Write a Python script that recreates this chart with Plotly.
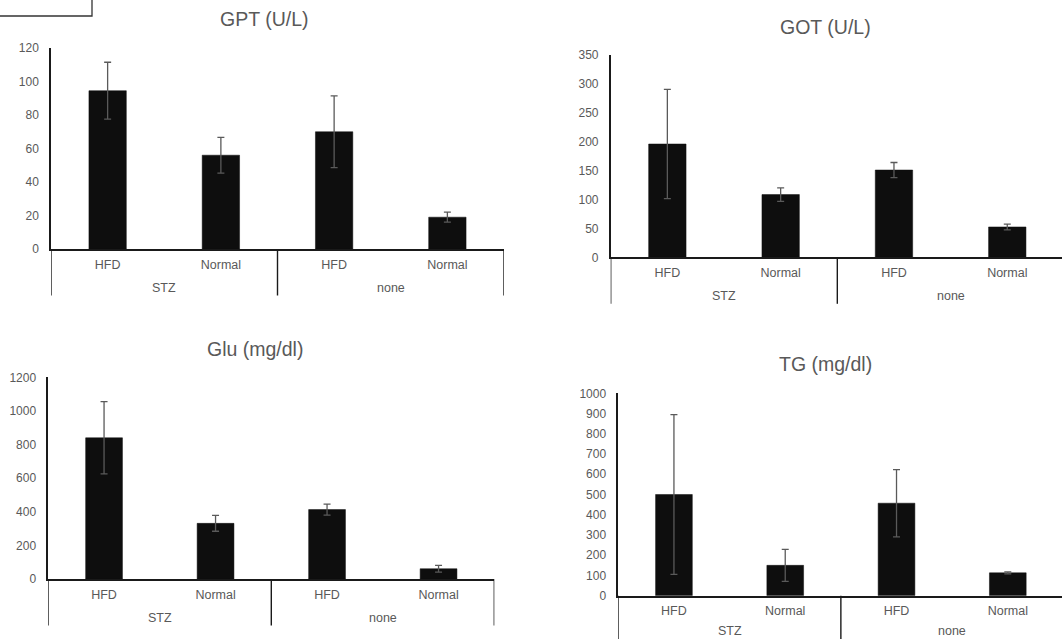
import plotly.graph_objects as go

W, H = 1062, 639

treatment = ["STZ", "STZ", "none", "none"]
diet = ["HFD", "Normal", "HFD", "Normal"]
groups = ["STZ", "none"]

gpt_mean = [94.5, 56, 70, 19]
gpt_err = [17, 10.7, 21.4, 3]
got_mean = [196, 108.5, 151, 52.5]
got_err = [94.5, 11.7, 13, 5]
glu_mean = [840, 331, 413, 61]
glu_err = [215, 47, 33, 20]
tg_mean = [500, 150, 457, 113]
tg_err = [395, 79, 166, 5]

titles = ["GPT (U/L)", "GOT (U/L)", "Glu (mg/dl)", "TG (mg/dl)"]
y_max = [120, 350, 1200, 1000]
y_dtick = [20, 50, 200, 100]

# panel geometry in pixels: (x_left, x_right, y_top, y_zero)
panels = [
    (51, 504, 48, 249),
    (610.7, 1062, 55, 257.3),
    (48.3, 494.3, 377.3, 579),
    (618.3, 1062, 393.3, 595.7),
]
x_range_end = [3.5, 3.483, 3.5, 3.487]
title_pos = [(264, 19), (825, 27), (255, 349), (825, 364)]

means = [gpt_mean, got_mean, glu_mean, tg_mean]
errs = [gpt_err, got_err, glu_err, tg_err]

TXT = "#595959"
LINE = "#1a1a1a"
FONT = "Liberation Sans, Arial, sans-serif"
GROUP_LABEL_DY = 38.7   # px below the x axis line
DIVIDER_LEN = 46.5      # px below the x axis line

idx = list(range(len(diet)))

fig = go.Figure()
layout = dict(
    width=W, height=H, autosize=False,
    margin=dict(l=0, r=0, t=0, b=0, pad=0, autoexpand=False),
    paper_bgcolor="white", plot_bgcolor="white",
    showlegend=False,
    font=dict(family=FONT, color=TXT, size=12),
    annotations=[], shapes=[],
)

for i in range(4):
    sfx = "" if i == 0 else str(i + 1)
    x0, x1, yt, yz = panels[i]
    fig.add_trace(go.Bar(
        x=idx, y=means[i],
        marker=dict(color="#0e0e0e", line=dict(color="#0e0e0e", width=0.5)),
        width=0.33,
        error_y=dict(type="data", array=errs[i], color="#5a5a5a",
                     thickness=1.3, width=3.5),
        xaxis="x" + sfx, yaxis="y" + sfx,
    ))
    layout["xaxis" + sfx] = dict(
        domain=[x0 / W, x1 / W],
        range=[-0.5, x_range_end[i]], anchor="y" + sfx,
        tickvals=idx, ticktext=diet,
        showline=True, linecolor=LINE, linewidth=1.5,
        showgrid=False, zeroline=False, ticks="",
        ticklabelstandoff=3, automargin=False,
        tickfont=dict(family=FONT, color=TXT, size=12.5),
    )
    layout["yaxis" + sfx] = dict(
        domain=[1 - yz / H, 1 - yt / H], range=[0, y_max[i]],
        dtick=y_dtick[i], anchor="x" + sfx,
        showline=True, linecolor=LINE, linewidth=1.5,
        showgrid=False, zeroline=False, ticks="",
        ticklabelstandoff=8, automargin=False,
        tickfont=dict(family=FONT, color=TXT, size=12),
    )
    # group labels (second level) and dividers
    label_y = min(yz + GROUP_LABEL_DY, H - 8)
    for g in groups:
        members = [k for k in idx if treatment[k] == g]
        layout["annotations"].append(dict(
            text=g, x=sum(members) / len(members), xref="x" + sfx,
            y=1 - label_y / H, yref="paper",
            showarrow=False, xanchor="center", yanchor="middle",
            font=dict(family=FONT, color=TXT, size=12.5),
        ))
    bounds = [-0.5] + [k + 0.5 for k in idx[:-1] if treatment[k] != treatment[k + 1]] + [idx[-1] + 0.5]
    for b in bounds:
        layout["shapes"].append(dict(
            type="line", xref="x" + sfx, yref="paper",
            x0=b, x1=b, y0=1 - yz / H, y1=1 - (yz + DIVIDER_LEN) / H,
            line=dict(color=LINE, width=1.4),
        ))
    tx, ty = title_pos[i]
    layout["annotations"].append(dict(
        text=titles[i], x=tx / W, y=1 - ty / H, xref="paper", yref="paper",
        showarrow=False, xanchor="center", yanchor="middle",
        font=dict(family=FONT, color=TXT, size=19.5),
    ))

layout["shapes"].append(dict(
    type="rect", xref="paper", yref="paper",
    x0=-0.01, x1=92 / W, y0=1 - 16 / H, y1=1.01,
    line=dict(color="#333333", width=1.3), fillcolor="rgba(0,0,0,0)",
))

fig.update_layout(**layout)
fig.write_html("out.html", config={"displayModeBar": False},
               post_script="document.body.style.margin='0';")
